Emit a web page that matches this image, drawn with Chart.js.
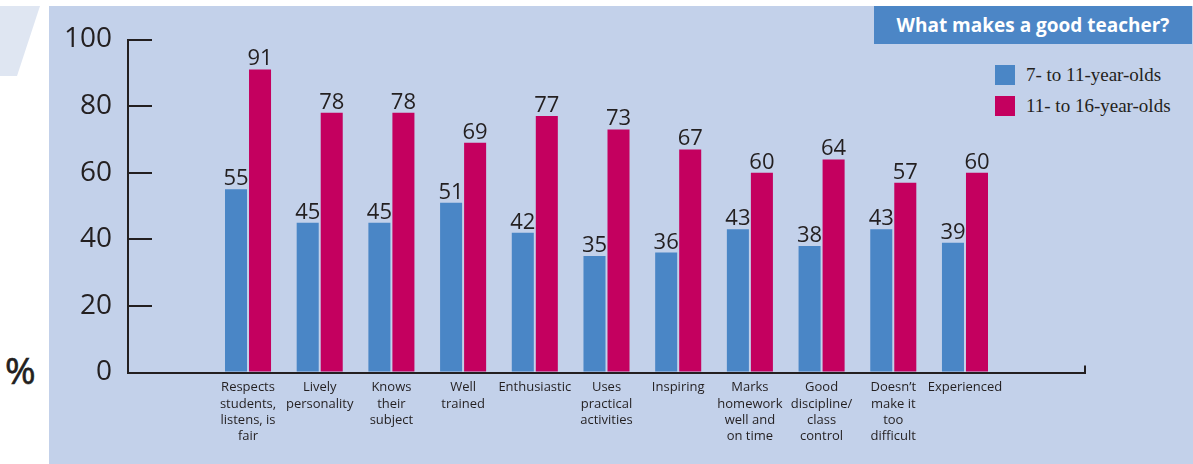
<!DOCTYPE html>
<html>
<head>
<meta charset="utf-8">
<script src="https://cdn.jsdelivr.net/npm/chart.js@4"></script>
<style>
  html, body { margin: 0; padding: 0; background: #fff; }
  #wrap { position: relative; width: 1193px; height: 464px; overflow: hidden; }
  #panel { position: absolute; left: 49px; top: 6px; right: 0; bottom: 0; background: #c3d1ea; }
  #slant { position: absolute; left: 0; top: 6px; width: 40px; height: 70px; background: #dfe6f2;
           clip-path: polygon(0 0, 40px 0, 17px 70px, 0 70px); }
  #pct { position: absolute; left: 5px; top: 344px; font: 37px "Open Sans", sans-serif; color: #231f20;
         -webkit-text-stroke: 0.6px #231f20; }
  #title { position: absolute; left: 874px; top: 6px; width: 318px; height: 38px; background: #4c86c6;
           color: #fff; font: bold 19px "Open Sans", sans-serif; line-height: 38px; text-align: center; }
  #legend { position: absolute; left: 995px; top: 65px; font: 19px "Liberation Serif", serif; color: #231f20; }
  #legend div { height: 31px; display: flex; align-items: flex-start; }
  #legend span.box { display: inline-block; width: 20px; height: 20px; margin-right: 11px; }
  #legend span.txt { line-height: 20px; }
  canvas { position: absolute; left: 0; top: 0; }
</style>
</head>
<body>
<div id="wrap">
  <div id="panel"></div>
  <div id="slant"></div>
  <div id="pct">%</div>
  <div id="title">What makes a good teacher?</div>
  <div id="legend"></div>
  <canvas id="chart" width="1193" height="464"></canvas>
</div>
<script>
const categories = [
  ['Respects', 'students,', 'listens, is', 'fair'],
  ['Lively', 'personality'],
  ['Knows', 'their', 'subject'],
  ['Well', 'trained'],
  ['Enthusiastic'],
  ['Uses', 'practical', 'activities'],
  ['Inspiring'],
  ['Marks', 'homework', 'well and', 'on time'],
  ['Good', 'discipline/', 'class', 'control'],
  ['Doesn\u2019t', 'make it', 'too', 'difficult'],
  ['Experienced']
];
const seriesNames = ['7- to 11-year-olds', '11- to 16-year-olds'];
const younger = [55, 45, 45, 51, 42, 35, 36, 43, 38, 43, 39];
const older = [91, 78, 78, 69, 77, 73, 67, 60, 64, 57, 60];
const yTicks = [0, 20, 40, 60, 80, 100];

const colors = ['#4a86c6', '#c4005f'];
const ink = '#231f20';

const valueLabels = {
  id: 'valueLabels',
  afterDatasetsDraw(chart) {
    const ctx = chart.ctx;
    ctx.save();
    ctx.font = '22px "Open Sans", sans-serif';
    ctx.fillStyle = ink;
    ctx.textAlign = 'center';
    ctx.textBaseline = 'alphabetic';
    chart.data.datasets.forEach((ds, i) => {
      chart.getDatasetMeta(i).data.forEach((bar, j) => {
        ctx.fillText(ds.data[j].y, bar.x, bar.y - 4);
      });
    });
    // small upturn at the right end of the x axis
    const a = chart.chartArea;
    ctx.strokeStyle = ink;
    ctx.lineWidth = 2;
    ctx.beginPath();
    ctx.moveTo(a.right, a.bottom + 1);
    ctx.lineTo(a.right, a.bottom - 7);
    ctx.stroke();
    ctx.restore();
  }
};

const toPoints = arr => arr.map((v, i) => ({ x: i, y: v }));

const chart = new Chart(document.getElementById('chart'), {
  type: 'bar',
  data: {
    datasets: [
      { label: seriesNames[0], data: toPoints(younger), backgroundColor: colors[0] },
      { label: seriesNames[1], data: toPoints(older), backgroundColor: colors[1] }
    ]
  },
  options: {
    responsive: false,
    animation: false,
    categoryPercentage: 0.67,
    barPercentage: 0.917,
    layout: { padding: { left: 0, top: 39.5, right: 108, bottom: 0 } },
    plugins: { legend: { display: false }, tooltip: { enabled: false } },
    scales: {
      x: {
        type: 'linear',
        offset: false,
        min: -1.674,
        max: 11.674,
        grid: { display: false, drawTicks: false },
        border: { display: true, color: ink, width: 2 },
        afterBuildTicks: s => { s.ticks = categories.map((c, i) => ({ value: i })); },
        afterFit: s => { s.height = 91.5; },
        ticks: {
          autoSkip: false,
          maxRotation: 0,
          padding: 7,
          color: ink,
          font: { family: '"Open Sans", sans-serif', size: 13, lineHeight: 1.25 },
          callback: v => categories[v]
        }
      },
      y: {
        min: 0,
        max: 100,
        afterBuildTicks: s => { s.ticks = yTicks.map(v => ({ value: v })); },
        afterFit: s => { s.width = 128; s.paddingTop = 0; s.paddingBottom = 0; },
        grid: { drawOnChartArea: false, drawTicks: true, tickLength: -24, color: ink, lineWidth: 2 },
        border: { display: true, color: ink, width: 2 },
        ticks: {
          padding: 40,
          color: ink,
          font: { family: '"Open Sans", sans-serif', size: 28 }
        }
      }
    }
  },
  plugins: [valueLabels]
});

const legend = document.getElementById('legend');
chart.data.datasets.forEach(ds => {
  const row = document.createElement('div');
  row.innerHTML = `<span class="box" style="background:${ds.backgroundColor}"></span><span class="txt">${ds.label}</span>`;
  legend.appendChild(row);
});
</script>
</body>
</html>
